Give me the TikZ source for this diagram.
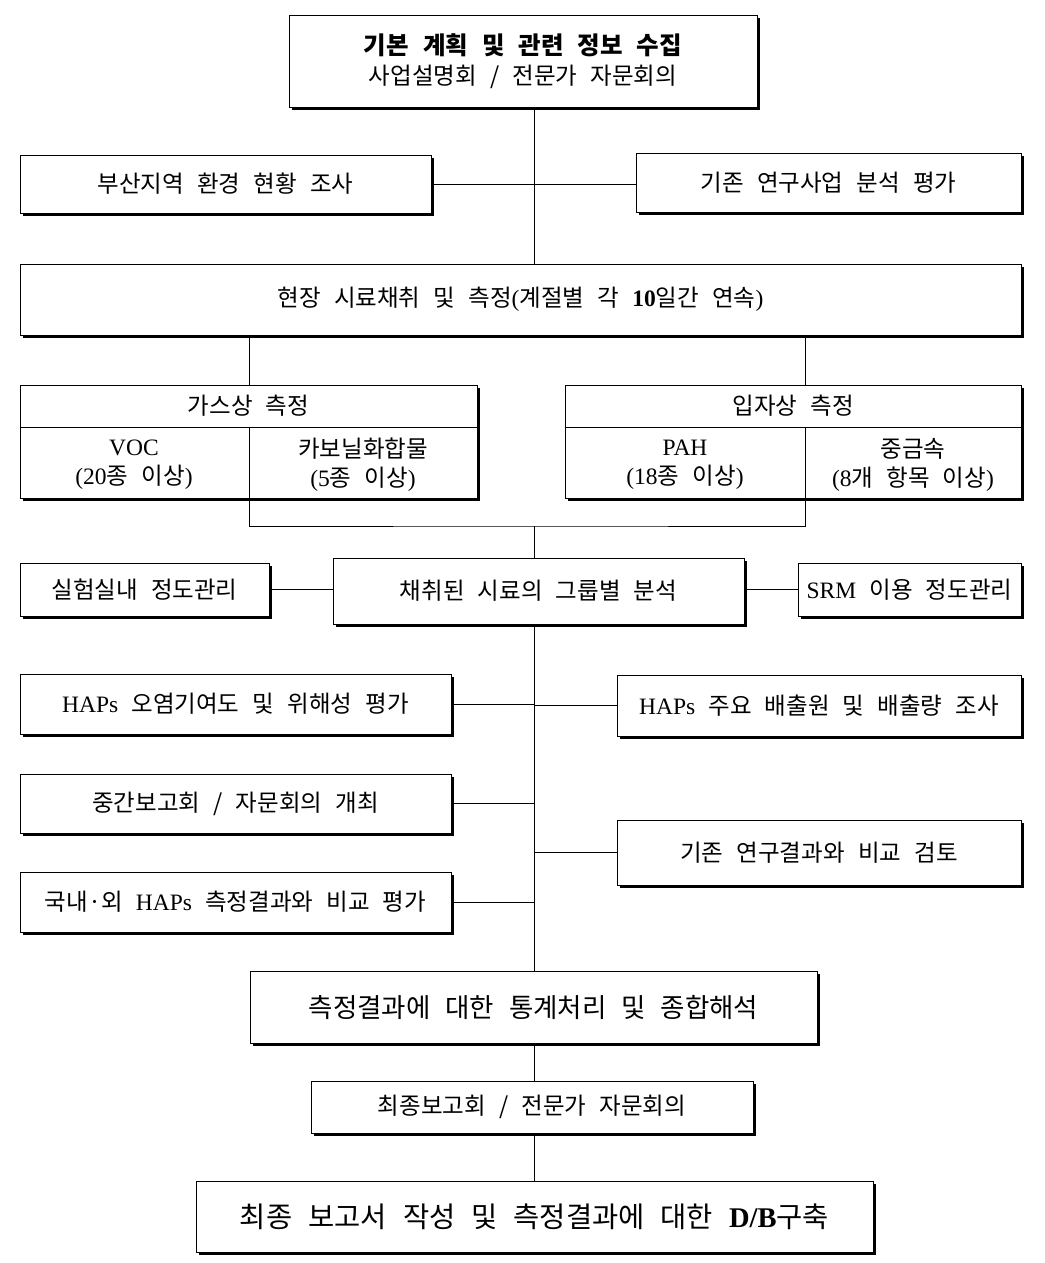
\documentclass[tikz,border=0pt]{standalone}
\usepackage{fontspec}
\setmainfont{Noto Sans CJK KR}[WordSpace=2.5]
\newfontfamily\latfont{Liberation Serif}[WordSpace=1.5]
\newcommand\lt[1]{{\latfont #1}}
\usetikzlibrary{shadows}

\begin{document}
\begin{tikzpicture}[x=1pt,y=1pt,yscale=-1,
    box/.style={draw,line width=1pt,fill=white,inner sep=0pt,align=center,
      font=\fontsize{23.5}{30}\selectfont,
      drop shadow={shadow xshift=2.5pt,shadow yshift=-2.5pt,opacity=1,fill=black}},
    cell/.style={inner sep=0pt,align=center,font=\fontsize{23.5}{29}\selectfont},
    conn/.style={line width=0.8pt}]
  \useasboundingbox (0,0) rectangle (1044,1263);

  % spine and dividers
  \coordinate (spine) at (534,0);
  \coordinate (gdiv) at (249,427);
  \coordinate (pdiv) at (805,427);
  \coordinate (join) at (534,526);

  % boxes
  \node[box,minimum width=468pt,minimum height=91pt] (top) at (523,61.5)
    {{\fontsize{24.5}{32}\selectfont\textbf{기본 계획 및 관련 정보 수집}}\\\rule{0pt}{26pt}사업설명회 / 전문가 자문회의};
  \node[box,minimum width=411pt,minimum height=58pt] (survey) at (225.5,184) {부산지역 환경 현황 조사};
  \node[box,minimum width=385pt,minimum height=59pt] (prior) at (828.5,182.5) {기존 연구사업 분석 평가};
  \node[box,minimum width=1001pt,minimum height=71pt] (field) at (520.5,299.5)
    {현장 시료채취 및 측정\lt{(}계절별 각 \lt{\textbf{10}}일간 연속\lt{)}};

  % gas / particle
  \node[box,minimum width=457pt,minimum height=113pt] (gas) at (248.5,441.5) {};
  \node[box,minimum width=456pt,minimum height=113pt] (particle) at (793,441.5) {};
  \draw[conn] (gas.west |- gdiv) -- (gas.east |- gdiv);
  \draw[conn] (gdiv) -- (gas.south -| gdiv);
  \draw[conn] (particle.west |- pdiv) -- (particle.east |- pdiv);
  \draw[conn] (pdiv) -- (particle.south -| pdiv);
  \node[cell] (gastitle) at (248.5,406) {가스상 측정};
  \node[cell] (voc) at (134,465) {\lt{VOC}\\\lt{(20}종 이상\lt{)}};
  \node[cell] (carb) at (363,465) {카보닐화합물\\\lt{(5}종 이상\lt{)}};
  \node[cell] (parttitle) at (793,406) {입자상 측정};
  \node[cell] (pah) at (685,465) {\lt{PAH}\\\lt{(18}종 이상\lt{)}};
  \node[cell] (metal) at (913,465) {중금속\\\lt{(8}개 항목 이상\lt{)}};

  \node[box,minimum width=411pt,minimum height=66pt] (group) at (538.5,591) {채취된 시료의 그룹별 분석};
  \node[box,minimum width=249pt,minimum height=53pt] (labqc) at (144.5,589.5) {실험실내 정도관리};
  \node[box,minimum width=223pt,minimum height=53pt] (srmqc) at (909.5,589.5) {\lt{SRM} 이용 정도관리};

  \node[box,minimum width=431pt,minimum height=60pt] (contrib) at (235.5,704) {\lt{HAPs} 오염기여도 및 위해성 평가};
  \node[box,minimum width=404pt,minimum height=61pt] (source) at (819,705.5) {\lt{HAPs} 주요 배출원 및 배출량 조사};
  \node[box,minimum width=431pt,minimum height=59pt] (interim) at (235.5,803.5) {중간보고회 / 자문회의 개최};
  \node[box,minimum width=404pt,minimum height=65pt] (compare) at (819,852.5) {기존 연구결과와 비교 검토};
  \node[box,minimum width=431pt,minimum height=60pt] (domestic) at (235.5,902) {국내·외 \lt{HAPs} 측정결과와 비교 평가};

  \node[box,minimum width=567pt,minimum height=72pt,font=\fontsize{26.5}{30}\selectfont] (stats) at (533.5,1007)
    {측정결과에 대한 통계처리 및 종합해석};
  \node[box,minimum width=442pt,minimum height=52pt] (finalmeet) at (532,1107) {최종보고회 / 전문가 자문회의};
  \node[box,minimum width=677pt,minimum height=71pt,font=\fontsize{28.5}{32}\selectfont] (finalrep) at (534.5,1216.5)
    {최종 보고서 작성 및 측정결과에 대한 \lt{\textbf{D/B}}구축};

  % connectors
  \draw[conn] (top.south -| spine) -- (field.north -| spine);
  \draw[conn] (survey.east) -- (survey.east -| prior.west);
  \draw[conn] (field.south -| gdiv) -- (gas.north -| gdiv);
  \draw[conn] (field.south -| pdiv) -- (particle.north -| pdiv);
  \draw[conn] (gas.south -| gdiv) |- (join) -| (particle.south -| pdiv);
  \draw[conn] (join) -- (group.north -| join);
  \draw[conn] (labqc.east) -- (labqc.east -| group.west);
  \draw[conn] (group.east |- srmqc.west) -- (srmqc.west);
  \draw[conn] (group.south -| spine) -- (stats.north -| spine);
  \draw[conn] (contrib.east) -- (contrib.east -| spine);
  \draw[conn] (source.west) -- (source.west -| spine);
  \draw[conn] (interim.east) -- (interim.east -| spine);
  \draw[conn] (compare.west) -- (compare.west -| spine);
  \draw[conn] (domestic.east) -- (domestic.east -| spine);
  \draw[conn] (stats.south -| spine) -- (finalmeet.north -| spine);
  \draw[conn] (finalmeet.south -| spine) -- (finalrep.north -| spine);
\end{tikzpicture}
\end{document}
